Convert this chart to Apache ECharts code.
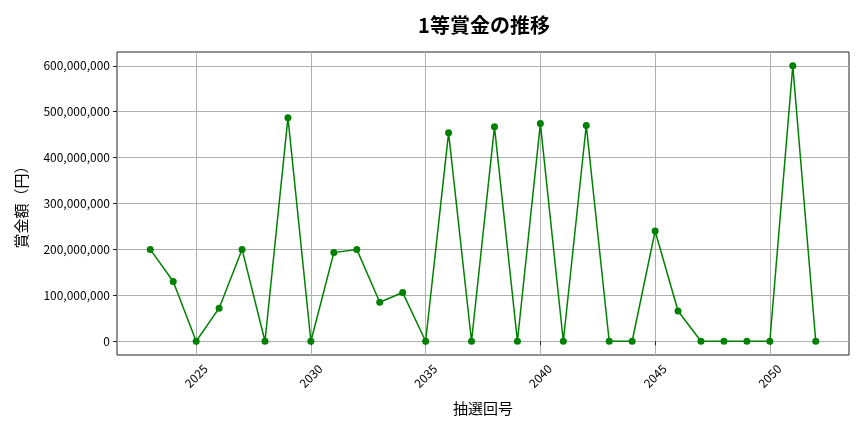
<!DOCTYPE html>
<html>
<head>
<meta charset="utf-8">
<script src="https://cdn.jsdelivr.net/npm/echarts@6/dist/echarts.min.js"></script>
<style>
  html, body { margin: 0; padding: 0; background: #fff; }
  #chart { width: 864px; height: 432px; }
</style>
</head>
<body>
<div id="chart"></div>
<script>
// 抽選回号 and 1等賞金 (円)
const draws = [2023, 2024, 2025, 2026, 2027, 2028, 2029, 2030, 2031, 2032,
               2033, 2034, 2035, 2036, 2037, 2038, 2039, 2040, 2041, 2042,
               2043, 2044, 2045, 2046, 2047, 2048, 2049, 2050, 2051, 2052];
const prizes = [200000000, 130000000, 0, 72000000, 200000000, 0, 487000000, 0, 193000000, 200000000,
                85000000, 106000000, 0, 454000000, 0, 467000000, 0, 474000000, 0, 470000000,
                0, 0, 240000000, 66000000, 0, 0, 0, 0, 600000000, 0];
const xTicks = [2025, 2030, 2035, 2040, 2045, 2050];
const yTicks = [0, 100000000, 200000000, 300000000, 400000000, 500000000, 600000000];

const font = "'Noto Sans CJK JP', 'Noto Sans', sans-serif";
const chart = echarts.init(document.getElementById('chart'));

chart.setOption({
    animation: false,
    title: {
        text: '1等賞金の推移',
        left: 479,
        top: 10,
        textAlign: 'center',
        textStyle: { fontFamily: font, fontSize: 20, fontWeight: 'bold', color: '#000' }
    },
    grid: {
        left: 117, right: 15, top: 52, bottom: 77,
        show: true, borderColor: '#222', borderWidth: 1, backgroundColor: 'transparent'
    },
    xAxis: {
        type: 'value',
        min: 2021.55,
        max: 2053.45,
        name: '抽選回号',
        nameLocation: 'middle',
        nameGap: 46,
        nameTextStyle: { fontFamily: font, fontSize: 15, color: '#000' },
        axisLine: { show: false },
        axisTick: { show: true, length: 4, lineStyle: { color: '#222' }, customValues: xTicks },
        axisLabel: {
            customValues: xTicks,
            rotate: 45, align: 'center', verticalAlign: 'middle',
            fontFamily: font, fontSize: 12, color: '#000', margin: 21,
            formatter: v => String(v)
        },
        splitLine: { show: true, lineStyle: { color: '#b0b0b0', width: 1 } }
    },
    yAxis: {
        type: 'value',
        min: -30000000,
        max: 630000000,
        name: '賞金額（円）',
        nameLocation: 'middle',
        nameRotate: 90,
        nameGap: 88,
        nameTextStyle: { fontFamily: font, fontSize: 15, color: '#000' },
        axisLine: { show: false },
        axisTick: { show: true, length: 4, lineStyle: { color: '#222' }, customValues: yTicks },
        axisLabel: {
            customValues: yTicks,
            fontFamily: font, fontSize: 12, color: '#000', margin: 7,
            formatter: v => v.toLocaleString('en-US')
        },
        splitLine: { show: true, lineStyle: { color: '#b0b0b0', width: 1 } }
    },
    series: [{
        type: 'line',
        data: draws.map((d, i) => [d, prizes[i]]),
        symbol: 'circle',
        symbolSize: 7,
        lineStyle: { color: '#008000', width: 1.5 },
        itemStyle: { color: '#008000' }
    }]
});
</script>
</body>
</html>
